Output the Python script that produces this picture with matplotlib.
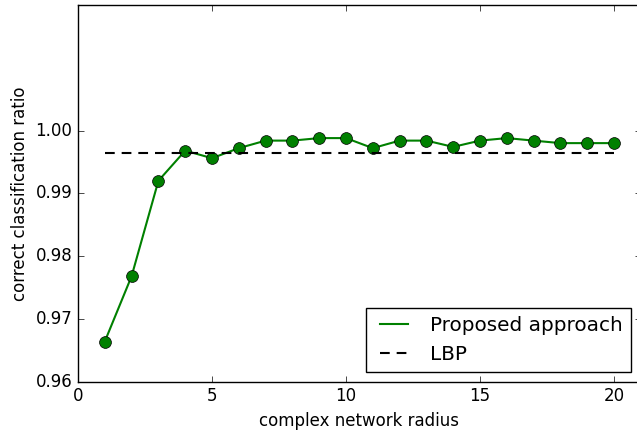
import numpy as np
import matplotlib
matplotlib.use("Agg")
import matplotlib.pyplot as plt

plt.style.use("classic")

raios = list(range(1, 21))
proposto = [0.9664, 0.9768, 0.9920, 0.9968, 0.9956, 0.9972, 0.9984, 0.9984, 0.9988, 0.9988,
            0.9972, 0.9984, 0.9984, 0.9974, 0.9984, 0.9988, 0.9984, 0.9980, 0.9980, 0.9980]
lbp = [0.9965] * len(raios)
yticks = [0.96, 0.97, 0.98, 0.99, 1.00]

fig = plt.figure(figsize=(6.37, 4.36), dpi=100, facecolor="white")
ax = fig.add_axes([78 / 637, 54.3 / 436, 562.8 / 637, 376.7 / 436])

ax.plot(raios, proposto, "g-", linewidth=1.5, label="Proposed approach")
ax.plot(raios, proposto, "go", markersize=8.5)
ax.plot(raios, lbp, "k--", linewidth=1.5, dashes=(7, 5), label="LBP")

ax.set_xlim(0, 21)
ax.set_ylim(0.96, 1.02)
ax.set_yticks(yticks)
ax.set_yticklabels(["%.2f" % t for t in yticks])
ax.set_xticks([0, 5, 10, 15, 20])
ax.set_xlabel("complex network radius")
ax.set_ylabel("correct classification ratio")
ax.legend(loc="lower right")

fig.savefig("out.png", dpi=100, facecolor="white")
